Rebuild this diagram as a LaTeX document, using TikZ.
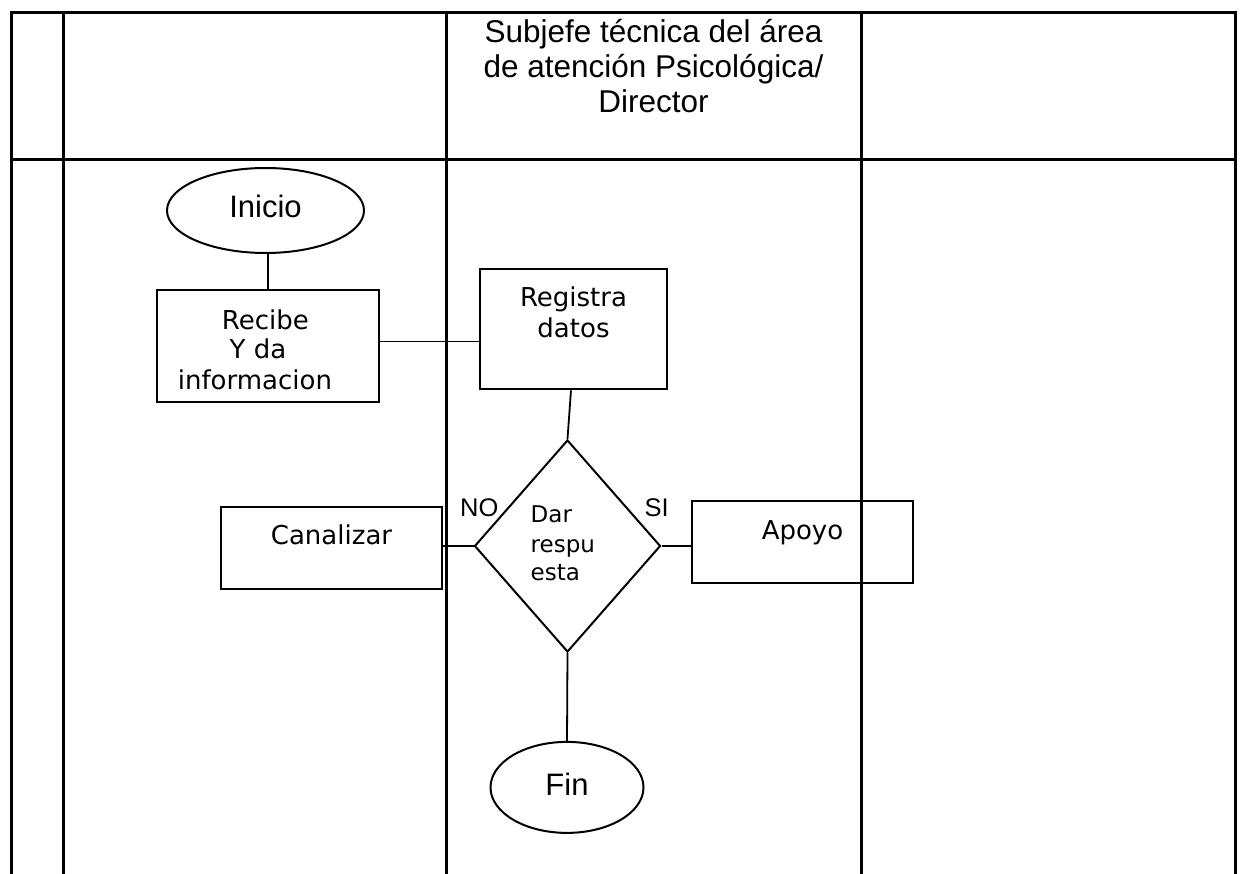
\documentclass[tikz,border=0pt]{standalone}
\usepackage{fontspec}
\setmainfont{Liberation Sans}
\newfontfamily\dvfont{DejaVu Sans}
\usetikzlibrary{shapes.geometric}
\begin{document}
\begin{tikzpicture}[x=1pt,y=-1pt,
  tbl/.style={line width=3pt},
  shp/.style={draw, line width=2pt, inner sep=0pt},
  conn/.style={line width=1.8pt},
  hdrtxt/.style={font=\fontsize{31.5}{35}\selectfont, anchor=base, inner sep=0pt},
  termtxt/.style={font=\fontsize{31}{35}\selectfont, anchor=base, inner sep=0pt},
  boxtxt/.style={font=\dvfont\fontsize{26}{30}\selectfont, anchor=base, inner sep=0pt},
  boxtxtl/.style={font=\dvfont\fontsize{26}{30}\selectfont, anchor=base west, inner sep=0pt},
  dectxt/.style={font=\dvfont\fontsize{23}{29}\selectfont, anchor=base west, inner sep=0pt},
  ynlbl/.style={font=\fontsize{25.5}{30}\selectfont, anchor=base west, inner sep=0pt}]
\useasboundingbox (0,0) rectangle (1251,874);
% table
\draw[tbl] (11.5,874) -- (11.5,12.3) -- (1235,12.3) -- (1235,874);
\draw[tbl] (11.5,160) -- (1235,160);
\draw[tbl] (63.7,12.3) -- (63.7,874);
\draw[tbl] (446,12.3) -- (446,874);
\draw[tbl] (861.5,12.3) -- (861.5,874);
% header
\node[hdrtxt] (h1) at (653.5,43) {Subjefe técnica del área};
\node[hdrtxt] (h2) at (653.5,78) {de atención Psicológica/};
\node[hdrtxt] (h3) at (653.5,113) {Director};
% shapes
\node[shp, ellipse, minimum width=197pt, minimum height=85pt] (ini) at (265.5,210.5) {};
\node[shp, rectangle, minimum width=221.7pt, minimum height=111.7pt] (rec) at (268.2,345.9) {};
\node[shp, rectangle, minimum width=187pt, minimum height=119.8pt] (reg) at (573.5,329.4) {};
\node[shp, diamond, minimum width=186pt, minimum height=212pt] (dia) at (567.5,546) {};
\node[shp, rectangle, minimum width=220.5pt, minimum height=82pt] (can) at (331.25,548) {};
\node[shp, rectangle, minimum width=220.4pt, minimum height=82.3pt] (apo) at (802.5,541.85) {};
\node[shp, ellipse, minimum width=153pt, minimum height=91pt] (fin) at (567,787.4) {};
% texts
\node[termtxt] (initxt) at (265.5,218) {Inicio};
\node[boxtxtl] (rec1) at (221.7,330) {Recibe};
\node[boxtxtl] (rec2) at (229.5,359) {Y da};
\node[boxtxtl] (rec3) at (177.6,390) {informacion};
\node[boxtxt] (reg1) at (573.5,307) {Registra};
\node[boxtxt] (reg2) at (573.5,338) {datos};
\node[dectxt] (dia1) at (530.5,522.7) {Dar};
\node[dectxt] (dia2) at (530.5,552) {respu};
\node[dectxt] (dia3) at (530.5,580.7) {esta};
\node[ynlbl] (nolbl) at (460,517) {NO};
\node[ynlbl] (silbl) at (644.5,517) {SI};
\node[boxtxt] (cantxt) at (331.5,544) {Canalizar};
\node[boxtxt] (apotxt) at (802.5,539.3) {Apoyo};
\node[termtxt] (fintxt) at (567,795) {Fin};
% connectors
\draw[conn] (rec.north) -- (rec.north |- ini.south);
\draw[conn] ([yshift=4.3pt]rec.east) -- ([yshift=4.3pt]rec.east -| reg.west);
\draw[conn] ([xshift=-2.5pt]reg.south) -- (dia.north);
\draw[conn] (dia.west) -- (dia.west -| can.east);
\draw[conn] (dia.east) -- (dia.east -| apo.west);
\draw[conn] (dia.south) -- (fin.north);
\end{tikzpicture}
\end{document}
